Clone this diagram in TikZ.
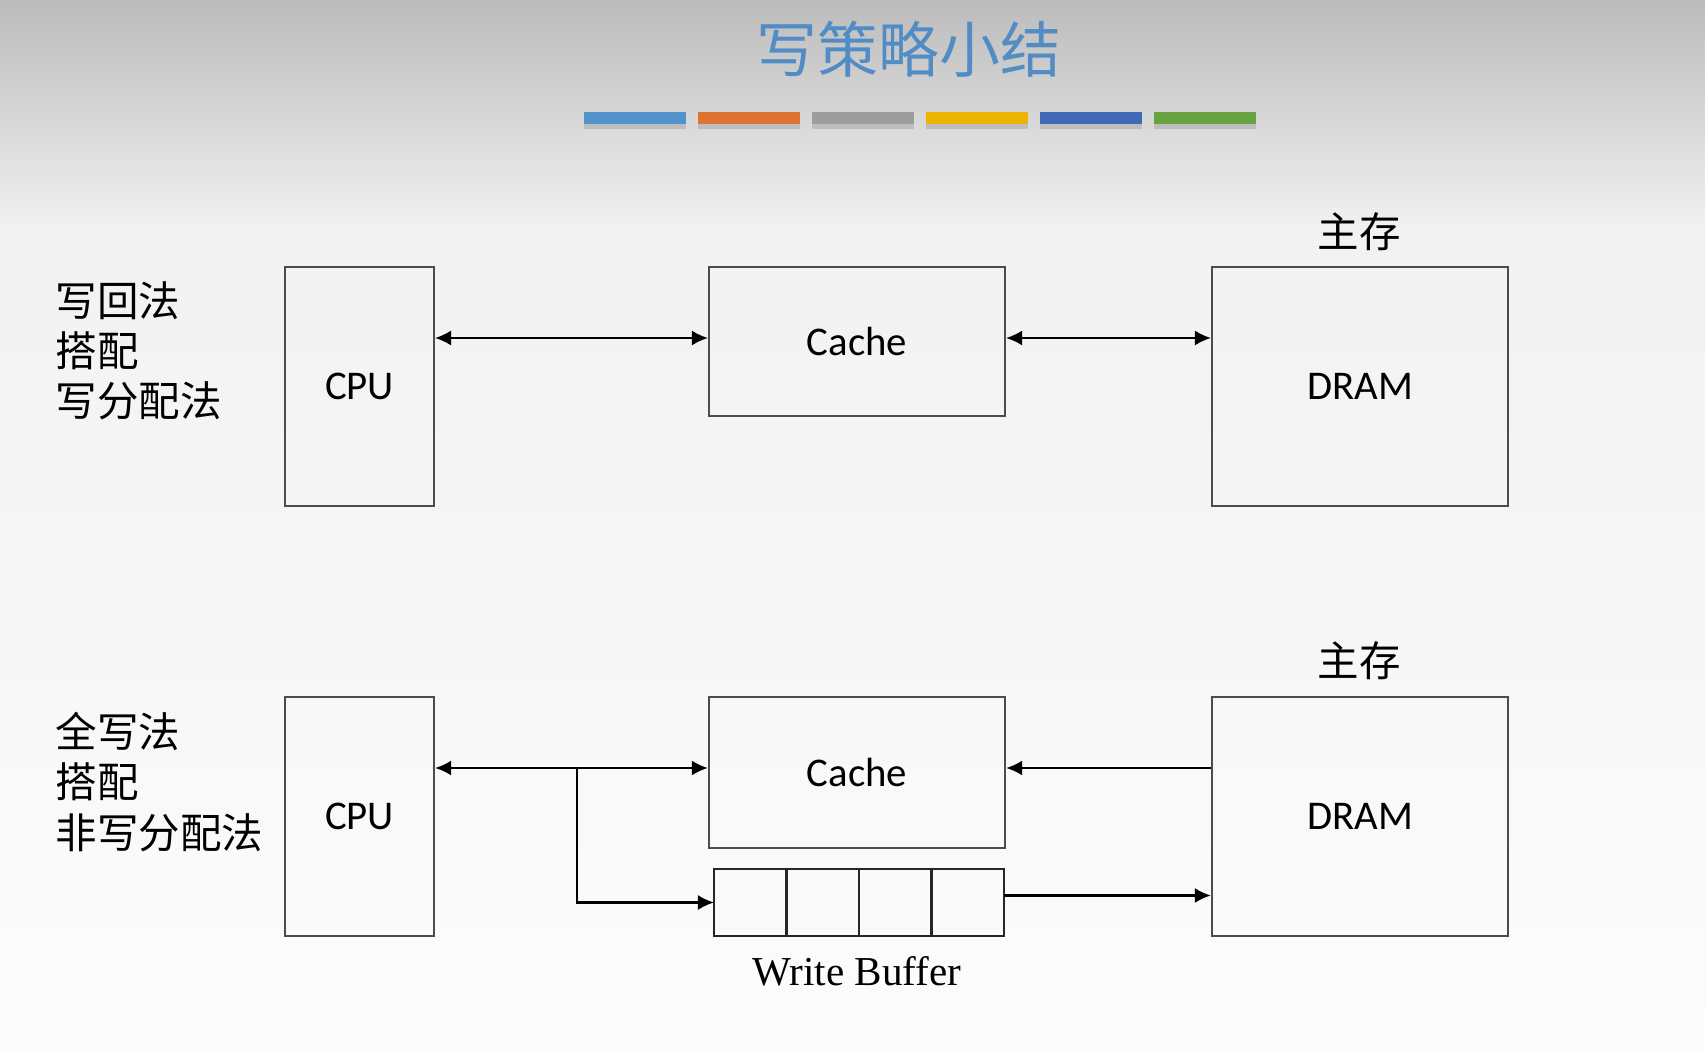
\documentclass[tikz,border=0pt]{standalone}
\usepackage{fontspec}
\setmainfont{Liberation Serif}
\newfontfamily\cjk{Noto Sans CJK SC}
\newfontfamily\calib{Carlito}
\usetikzlibrary{arrows.meta, positioning, shadows}

\definecolor{titleblue}{RGB}{82,140,196}
\definecolor{bgtop}{RGB}{188,188,188}
\definecolor{bgmid}{RGB}{242,242,242}
\definecolor{bgbot}{RGB}{252,252,252}
\definecolor{barA}{RGB}{84,146,203}
\definecolor{barB}{RGB}{222,116,50}
\definecolor{barC}{RGB}{156,156,156}
\definecolor{barD}{RGB}{235,180,0}
\definecolor{barE}{RGB}{64,106,182}
\definecolor{barF}{RGB}{103,163,65}

\begin{document}
\begin{tikzpicture}[
  x=0.01cm, y=-0.01cm,
  unit/.style={rectangle, draw=black!70, line width=0.6pt, inner sep=0pt, font=\calib\fontsize{11.6}{14}\selectfont},
  cell/.style={rectangle, draw=black!85, line width=0.7pt, outer sep=0pt, inner sep=0pt, minimum width=0.725cm, minimum height=0.67cm},
  tag/.style={anchor=west, align=left, inner sep=0pt, font=\cjk\fontsize{11.8}{14.3}\selectfont},
  bar/.style={rectangle, fill=#1, inner sep=0pt, minimum width=1.02cm, minimum height=0.12cm, drop shadow={shadow xshift=0pt, shadow yshift=-1.3pt, opacity=0.3}},
  arr/.style={-{Latex[length=1.6mm, width=1.5mm]}, line width=0.5pt},
  biarr/.style={{Latex[length=1.6mm, width=1.5mm]}-{Latex[length=1.6mm, width=1.5mm]}, line width=0.5pt}
]
\useasboundingbox (0,0) rectangle (1705,1052);

% background
\shade[top color=bgtop, bottom color=bgmid] (0,0) rectangle (1705,230);
\shade[top color=bgmid, bottom color=bgbot] (0,230) rectangle (1705,1052);

% title and colour bars
\node[font=\cjk\fontsize{17.3}{20}\selectfont, text=titleblue] (title) at (909,49) {写策略小结};
\foreach \c [count=\i from 0] in {barA,barB,barC,barD,barE,barF} {
  \node[bar=\c] (bar\i) at (635+114*\i, 118) {};
}

% write-back + write-allocate
\node[tag] (modeA) at (55,351) {写回法\\搭配\\写分配法};
\node[unit, minimum width=1.49cm, minimum height=2.39cm] (cpuA) at (359.5,386.5) {CPU};
\node[unit, minimum width=2.96cm, minimum height=1.49cm] (cacheA) at (857,341.5) {Cache};
\node[unit, minimum width=2.96cm, minimum height=2.39cm] (dramA) at (1360,386.5) {DRAM};
\node[font=\cjk\fontsize{11.8}{14}\selectfont] (memA) at (1359,232) {主存};

\coordinate (linkA) at (857,338);
\draw[biarr] (cpuA.east |- linkA) -- (cacheA.west |- linkA);
\draw[biarr] (cacheA.east |- linkA) -- (dramA.west |- linkA);

% write-through + no-write-allocate
\node[tag] (modeB) at (55,782) {全写法\\搭配\\非写分配法};
\node[unit, minimum width=1.49cm, minimum height=2.39cm] (cpuB) at (359.5,816.5) {CPU};
\node[unit, minimum width=2.96cm, minimum height=1.51cm] (cacheB) at (857,772.5) {Cache};
\node[unit, minimum width=2.96cm, minimum height=2.39cm] (dramB) at (1360,816.5) {DRAM};
\node[font=\cjk\fontsize{11.8}{14}\selectfont] (memB) at (1359,661) {主存};

% write buffer
\node[cell] (buf1) at (750.25,902.5) {};
\foreach \i [count=\j from 2] in {1,2,3} {
  \node[cell, right=0pt of buf\i] (buf\j) {};
}
\node[font=\fontsize{11.7}{14}\selectfont] (bufname) at (857,971) {Write Buffer};

\coordinate (tap) at (577,768);
\coordinate (bufout) at ([yshift=0.07cm]buf4.east);
\draw[biarr, line width=0.6pt] (cpuB.east |- tap) -- (cacheB.west |- tap);
\draw[arr, line width=0.6pt] (tap) |- (buf1.west);
\draw[arr, line width=0.6pt] (dramB.west |- tap) -- (cacheB.east |- tap);
\draw[arr, line width=0.6pt] (bufout) -- (dramB.west |- bufout);
\end{tikzpicture}
\end{document}
